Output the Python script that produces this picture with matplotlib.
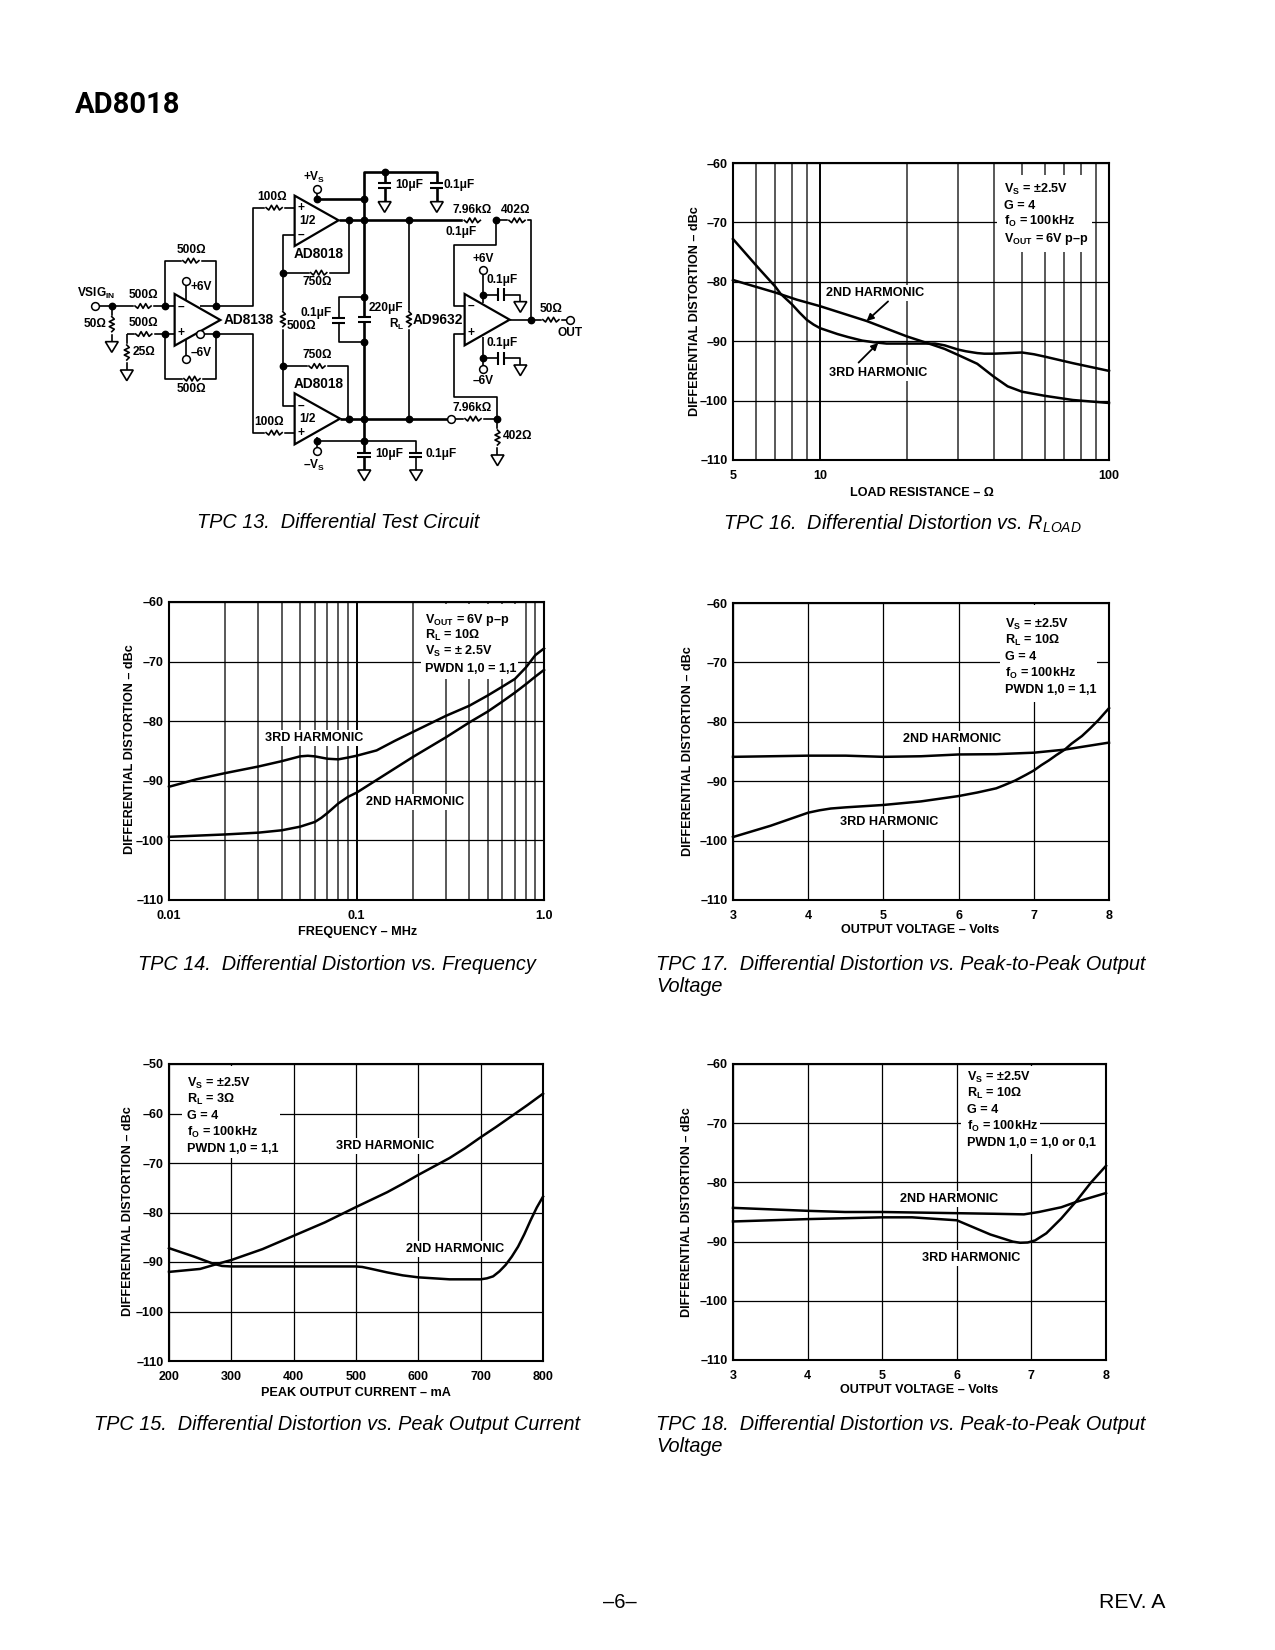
import matplotlib
matplotlib.use("Agg")
import matplotlib.pyplot as plt
from matplotlib.patches import Polygon, Rectangle

plt.rcParams['font.family'] = ['Liberation Sans', 'DejaVu Sans']
plt.rcParams['font.weight'] = 'bold'
plt.rcParams['mathtext.fontset'] = 'custom'
plt.rcParams['mathtext.default'] = 'bf'
plt.rcParams['mathtext.bf'] = 'Liberation Sans:bold'
plt.rcParams['mathtext.it'] = 'Liberation Sans:italic:normal'
plt.rcParams['mathtext.rm'] = 'Liberation Sans:bold'

W, H = 1275, 1650

# --- values ---
rload_2nd_x = [5, 7, 8.3, 10, 14.5, 20, 24.5, 27, 30, 35, 40, 44.6, 50, 60, 75, 100]
rload_2nd_y = [-79.7, -81.8, -83.0, -84.1, -86.6, -89.2, -90.6, -91.3, -92.3, -93.8, -96, -97.6, -98.5, -99.2, -99.9, -100.4]
rload_3rd_x = [5, 6.18, 7, 7.3, 8, 8.5, 9, 9.5, 10, 11.5, 12.5, 14, 15.5, 17, 20, 25, 27, 30, 32, 35, 37, 40, 45, 50, 55, 60, 75, 100]
rload_3rd_y = [-72.8, -77.9, -80.8, -82, -83.8, -85.2, -86.4, -87.2, -87.8, -88.8, -89.3, -89.9, -90.2, -90.4, -90.4, -90.4, -90.7, -91.4, -91.7, -92, -92.1, -92.1, -92, -91.9, -92.2, -92.6, -93.7, -95]

freq_2nd_x = [0.01, 0.02, 0.03, 0.04, 0.05, 0.06, 0.065, 0.07, 0.08, 0.09, 0.1, 0.2, 0.3, 0.4, 0.5, 0.6, 0.7, 0.8, 0.9, 1.0]
freq_2nd_y = [-99.4, -99, -98.7, -98.3, -97.7, -96.9, -96.2, -95.4, -93.8, -92.7, -92, -86, -82.7, -80.2, -78.4, -76.7, -75.2, -73.8, -72.5, -71.4]
freq_3rd_x = [0.01, 0.014, 0.02, 0.03, 0.04, 0.05, 0.055, 0.06, 0.07, 0.08, 0.09, 0.1, 0.128, 0.16, 0.2, 0.3, 0.4, 0.5, 0.6, 0.7, 0.8, 0.9, 1.0]
freq_3rd_y = [-91, -89.75, -88.7, -87.6, -86.7, -85.9, -85.8, -85.9, -86.3, -86.4, -86.1, -85.8, -84.9, -83.3, -81.8, -79.1, -77.4, -75.7, -74.2, -72.9, -71, -68.9, -67.8]

volt17_2nd_x = [3, 4, 4.5, 5, 5.5, 6, 6.5, 7, 7.4, 8]
volt17_2nd_y = [-85.9, -85.7, -85.7, -85.9, -85.8, -85.5, -85.45, -85.2, -84.7, -83.5]
volt17_3rd_x = [3, 3.5, 4, 4.15, 4.3, 4.5, 5, 5.5, 6, 6.25, 6.5, 6.6, 6.75, 6.9, 7, 7.1, 7.2, 7.3, 7.41, 7.5, 7.64, 7.75, 7.86, 8]
volt17_3rd_y = [-99.4, -97.5, -95.3, -94.9, -94.6, -94.4, -94, -93.4, -92.5, -91.9, -91.2, -90.7, -89.9, -88.9, -88.2, -87.3, -86.5, -85.6, -84.7, -83.7, -82.4, -81.1, -79.7, -77.7]

curr_3rd_x = [200, 250, 280, 300, 350, 400, 450, 500, 550, 575, 600, 625, 650, 675, 700, 725, 750, 775, 800]
curr_3rd_y = [-92, -91.4, -90.3, -89.6, -87.4, -84.7, -82, -78.9, -75.9, -74.2, -72.4, -70.7, -69, -67, -64.8, -62.7, -60.5, -58.3, -56]
curr_2nd_x = [200, 240, 270, 285, 300, 400, 500, 510, 525, 550, 575, 600, 625, 650, 700, 710, 720, 730, 740, 750, 760, 770, 780, 790, 800]
curr_2nd_y = [-87.2, -88.9, -90.3, -90.8, -90.9, -90.9, -90.9, -91, -91.4, -92.1, -92.7, -93.1, -93.3, -93.5, -93.5, -93.3, -92.9, -91.9, -90.6, -88.9, -86.9, -84.4, -81.6, -79, -76.8]

volt18_2nd_x = [3, 4, 4.5, 5, 6, 6.5, 6.9, 7.1, 7.4, 7.6, 8]
volt18_2nd_y = [-84.3, -84.8, -85, -85, -85.2, -85.3, -85.4, -85, -84.2, -83.3, -81.8]
volt18_3rd_x = [3, 4, 5, 5.4, 6, 6.15, 6.3, 6.45, 6.6, 6.75, 6.85, 6.95, 7.05, 7.2, 7.4, 7.6, 7.8, 8]
volt18_3rd_y = [-86.6, -86.2, -85.9, -85.9, -86.4, -87.2, -88, -88.8, -89.4, -90, -90.2, -90.15, -89.8, -88.6, -86.1, -83.2, -80, -77.2]

rload_minor = [6, 7, 8, 9, 20, 30, 40, 50, 60, 70, 80, 90]
freq_minor = [0.02, 0.03, 0.04, 0.05, 0.06, 0.07, 0.08, 0.09, 0.2, 0.3, 0.4, 0.5, 0.6, 0.7, 0.8, 0.9]

db_ticks = [-60, -70, -80, -90, -100, -110]
db_ticks_15 = [-50, -60, -70, -80, -90, -100, -110]
volt_ticks = [3, 4, 5, 6, 7, 8]
curr_ticks = [200, 300, 400, 500, 600, 700, 800]

notes_16 = ["V$_{S}$ = ±2.5V", "G = 4", "f$_{O}$ = 100kHz", "V$_{OUT}$ = 6V p–p"]
notes_14 = ["V$_{OUT}$ = 6V p–p", "R$_{L}$ = 10Ω", "V$_{S}$ = ± 2.5V", "PWDN 1,0 = 1,1"]
notes_17 = ["V$_{S}$ = ±2.5V", "R$_{L}$ = 10Ω", "G = 4", "f$_{O}$ = 100kHz", "PWDN 1,0 = 1,1"]
notes_15 = ["V$_{S}$ = ±2.5V", "R$_{L}$ = 3Ω", "G = 4", "f$_{O}$ = 100kHz", "PWDN 1,0 = 1,1"]
notes_18 = ["V$_{S}$ = ±2.5V", "R$_{L}$ = 10Ω", "G = 4", "f$_{O}$ = 100kHz", "PWDN 1,0 = 1,0 or 0,1"]

fig = plt.figure(figsize=(W / 100, H / 100), dpi=100, facecolor='white')

page = fig.add_axes([0, 0, 1, 1], zorder=10)
page.set_xlim(0, W)
page.set_ylim(H, 0)
page.axis('off')
page.patch.set_alpha(0)


def make_axes(left, top, right, bottom, xscale, xlim, ylim, xticks, xlabels, yticks, minor=None):
    ax = fig.add_axes([left / W, 1 - bottom / H, (right - left) / W, (bottom - top) / H])
    ax.set_xscale(xscale)
    ax.set_xlim(*xlim)
    ax.set_ylim(*ylim)
    ax.set_xticks(xticks)
    ax.set_xticklabels(xlabels)
    ax.set_yticks(yticks)
    ax.set_yticklabels([str(v).replace('-', '–') for v in yticks])
    if minor:
        ax.set_xticks(minor, minor=True)
        ax.set_xticklabels([''] * len(minor), minor=True)
    else:
        ax.minorticks_off()
    ax.tick_params(which='both', length=0, labelsize=9)
    ax.tick_params(axis='x', pad=7)
    ax.tick_params(axis='y', pad=4)
    ax.grid(True, which='major', color='black', lw=0.9)
    if minor:
        ax.grid(True, which='major', axis='x', color='black', lw=1.4)
        ax.grid(True, which='minor', axis='x', color='#444444', lw=1.25)
    ax.set_axisbelow(True)
    for s in ax.spines.values():
        s.set_linewidth(1.5)
        s.set_zorder(5)
    return ax


def curve(ax, x, y):
    ax.plot(x, y, color='black', lw=1.8, zorder=4, clip_on=False, solid_joinstyle='round')


def note(ax, x, y, lines, boxes):
    # boxes are the white gaps cut in the grid: left, top, right, bottom in page pixels
    for l, t, r, b in boxes:
        ax.add_patch(Rectangle((l, t), r - l, b - t, transform=page.transData, fc='white', ec='none', zorder=2.8))
    for i, s in enumerate(lines):
        ax.text(x, y + 4.5 + i * 16.4, s, transform=page.transData, ha='left', va='baseline',
                fontsize=9.05, zorder=3, clip_on=False)


def label(ax, x, y, s):
    ax.text(x, y, s, transform=page.transData, ha='center', va='center', fontsize=9.1,
            zorder=3, bbox=dict(fc='white', ec='none', pad=1.2))


def axis_titles(xt, xx, xy, yt, yx, yy):
    page.text(xx, xy, xt, ha='center', va='center', fontsize=9.05)
    page.text(yx, yy, yt, ha='center', va='center', fontsize=9.05, rotation=90)


def caption(x, y, s):
    page.text(x, y, s, ha='left', va='center', fontsize=14.3, style='italic', weight='normal',
              family=['Liberation Sans', 'DejaVu Sans'])


ylab = "DIFFERENTIAL DISTORTION – dBc"

# --- TPC 16 ---
ax = make_axes(733, 163, 1109, 460, 'log', (5, 100), (-110, -60), [5, 10, 100], ['5', '10', '100'], db_ticks, rload_minor)
curve(ax, rload_2nd_x, rload_2nd_y)
curve(ax, rload_3rd_x, rload_3rd_y)
note(ax, 1004, 188, notes_16, [(997, 175, 1092, 252)])
label(ax, 875, 293, "2ND HARMONIC")
label(ax, 878, 373, "3RD HARMONIC")
ax.annotate('', xy=(14.5, -86.6), xytext=(17.2, -83.3), zorder=4,
            arrowprops=dict(arrowstyle='-|>', color='black', lw=1.3, shrinkA=0, shrinkB=0))
ax.annotate('', xy=(15.9, -90.3), xytext=(13.6, -93.6), zorder=4,
            arrowprops=dict(arrowstyle='-|>', color='black', lw=1.3, shrinkA=0, shrinkB=0))
axis_titles("LOAD RESISTANCE – Ω", 922, 493, ylab, 695, 311)

# --- TPC 14 ---
ax = make_axes(169, 602, 544, 900, 'log', (0.01, 1.0), (-110, -60), [0.01, 0.1, 1.0], ['0.01', '0.1', '1.0'], db_ticks, freq_minor)
curve(ax, freq_2nd_x, freq_2nd_y)
curve(ax, freq_3rd_x, freq_3rd_y)
note(ax, 425, 618, notes_14, [(421, 604, 518, 679)])
label(ax, 314, 738, "3RD HARMONIC")
label(ax, 415, 802, "2ND HARMONIC")
axis_titles("FREQUENCY – MHz", 358, 932, ylab, 130, 749)

# --- TPC 17 ---
ax = make_axes(733, 603, 1109, 900, 'linear', (3, 8), (-110, -60), volt_ticks, [str(v) for v in volt_ticks], db_ticks)
curve(ax, volt17_2nd_x, volt17_2nd_y)
curve(ax, volt17_3rd_x, volt17_3rd_y)
note(ax, 1005, 623, notes_17, [(1000, 605, 1097, 702)])
label(ax, 952, 739, "2ND HARMONIC")
label(ax, 889, 822, "3RD HARMONIC")
axis_titles("OUTPUT VOLTAGE – Volts", 920, 930, ylab, 688, 751)

# --- TPC 15 ---
ax = make_axes(169, 1064, 543, 1361, 'linear', (200, 800), (-110, -50), curr_ticks, [str(v) for v in curr_ticks], db_ticks_15)
curve(ax, curr_2nd_x, curr_2nd_y)
curve(ax, curr_3rd_x, curr_3rd_y)
note(ax, 187, 1082, notes_15, [(182, 1066, 280, 1158)])
label(ax, 385, 1146, "3RD HARMONIC")
label(ax, 455, 1249, "2ND HARMONIC")
axis_titles("PEAK OUTPUT CURRENT – mA", 356, 1393, ylab, 128, 1211)

# --- TPC 18 ---
ax = make_axes(733, 1064, 1106, 1360, 'linear', (3, 8), (-110, -60), volt_ticks, [str(v) for v in volt_ticks], db_ticks)
curve(ax, volt18_2nd_x, volt18_2nd_y)
curve(ax, volt18_3rd_x, volt18_3rd_y)
note(ax, 967, 1076, notes_18, [(961, 1066, 1040, 1136), (961, 1136, 1097, 1154)])
label(ax, 949, 1199, "2ND HARMONIC")
label(ax, 971, 1258, "3RD HARMONIC")
axis_titles("OUTPUT VOLTAGE – Volts", 919, 1390, ylab, 687, 1212)

# --- captions, header, footer ---
caption(197, 523, "TPC 13.  Differential Test Circuit")
caption(723, 524, "TPC 16.  Differential Distortion vs. R$_{\\mathit{LOAD}}$")
caption(138, 964, "TPC 14.  Differential Distortion vs. Frequency")
caption(656, 964, "TPC 17.  Differential Distortion vs. Peak-to-Peak Output")
caption(656, 987, "Voltage")
caption(94, 1424, "TPC 15.  Differential Distortion vs. Peak Output Current")
caption(656, 1424, "TPC 18.  Differential Distortion vs. Peak-to-Peak Output")
caption(656, 1447, "Voltage")
page.text(75, 105, "AD8018", ha='left', va='center', fontsize=21, weight='bold',
          family=['Roboto', 'Liberation Sans'])
page.text(620, 1602, "–6–", ha='center', va='center', fontsize=14.5, weight='normal')
page.text(1165, 1602, "REV. A", ha='right', va='center', fontsize=15.3, weight='normal')

# --- TPC 13 schematic, in its own units over the crop area ---
sch = fig.add_axes([50 / W, 1 - 540 / H, 560 / W, 400 / H], zorder=5)
sch.set_xlim(0, 1568)
sch.set_ylim(1200, 0)
sch.axis('off')

thin_wires = [
    [(135, 498), (349, 498)], [(173, 498), (173, 605)], [(217, 582), (349, 582)], [(215, 582), (215, 690)],
    [(322, 498), (322, 362), (466, 362), (466, 498)], [(420, 498), (568, 498), (568, 203), (685, 203)],
    [(322, 582), (322, 716), (466, 716), (466, 582)], [(428, 582), (568, 582), (568, 878), (685, 878)],
    [(382, 431), (382, 490)], [(382, 590), (382, 648)],
    [(837, 241), (837, 398), (652, 398)], [(685, 285), (652, 285), (652, 798), (685, 798)],
    [(652, 678), (835, 678), (835, 836)], [(1005, 241), (1005, 836)],
    [(1250, 241), (1348, 241), (1348, 539)], [(1250, 241), (1250, 314), (1130, 314), (1130, 497), (1161, 497)],
    [(1253, 836), (1253, 770), (1132, 770), (1132, 582), (1161, 582)], [(1253, 836), (1253, 945)],
    [(1130, 836), (1253, 836)], [(1287, 539), (1448, 539)],
    [(748, 156), (748, 190)], [(748, 890), (748, 924)],
    [(748, 903), (1025, 903), (1025, 938)], [(1025, 950), (1025, 990)],
    [(880, 470), (808, 470), (808, 535)], [(808, 548), (808, 605), (880, 605)],
    [(1212, 400), (1212, 490)], [(1212, 464), (1255, 464)], [(1270, 464), (1317, 464), (1317, 485)],
    [(1212, 590), (1212, 678)], [(1212, 655), (1255, 655)], [(1270, 655), (1317, 655), (1317, 675)],
]
thick_wires = [
    [(880, 530), (880, 97), (1083, 97), (1083, 130)], [(1083, 145), (1083, 185)],
    [(937, 97), (937, 130)], [(937, 145), (937, 185)], [(748, 177), (880, 177)],
    [(808, 241), (1160, 241)], [(812, 836), (1115, 836)],
    [(880, 545), (880, 938)], [(880, 950), (880, 990)],
]
plates = [
    [(1063, 130), (1100, 130)], [(1063, 145), (1100, 145)], [(918, 130), (955, 130)], [(918, 145), (955, 145)],
    [(862, 530), (898, 530)], [(862, 545), (898, 545)], [(790, 535), (826, 535)], [(790, 548), (826, 548)],
    [(860, 938), (898, 938)], [(860, 950), (898, 950)], [(1005, 938), (1043, 938)], [(1005, 950), (1043, 950)],
    [(1255, 445), (1255, 483)], [(1270, 445), (1270, 483)], [(1255, 636), (1255, 674)], [(1270, 636), (1270, 674)],
]
triangles = [
    [(349, 462), (349, 617), (477, 540)], [(685, 167), (685, 318), (808, 241)],
    [(685, 760), (685, 913), (812, 836)], [(1161, 462), (1161, 616), (1287, 539)],
]
resistors_h = [(238, 498), (240, 582), (372, 362), (375, 716), (605, 203), (605, 878), (730, 398), (725, 678),
               (1160, 241), (1285, 241), (1162, 836), (1380, 539)]
resistors_v = [(173, 530), (215, 615), (652, 515), (1005, 515), (1253, 870)]
grounds = [(173, 605), (215, 690), (937, 185), (1083, 185), (880, 990), (1025, 990), (1253, 945), (1317, 485), (1317, 675)]
nodes = [(173, 498), (322, 498), (322, 582), (466, 498), (466, 582), (652, 398), (652, 678), (837, 241), (837, 836),
         (880, 177), (880, 241), (880, 470), (880, 605), (880, 836), (880, 903), (937, 97), (1005, 241), (1005, 836),
         (1250, 241), (1253, 836), (1348, 539), (748, 177), (748, 903), (1212, 464), (1212, 655)]
terminals = [(127, 498), (382, 423), (382, 656), (420, 582), (748, 148), (748, 932), (1122, 836), (1456, 539), (1212, 391), (1212, 686)]
sch_labels = [
    ("VSIG$_{IN}$", 130, 460), ("500Ω", 261, 465), ("50Ω", 127, 552), ("500Ω", 261, 550), ("25Ω", 263, 636),
    ("500Ω", 395, 331), ("500Ω", 395, 748), ("+6V", 422, 441), ("–6V", 422, 639),
    ("100Ω", 622, 171), ("100Ω", 614, 846), ("1/2", 722, 243), ("1/2", 722, 838),
    ("750Ω", 747, 426), ("750Ω", 747, 645), ("500Ω", 705, 558), ("0.1μF", 745, 520), ("220μF", 940, 505),
    ("R$_{L}$", 972, 552), ("+V$_{S}$", 740, 112), ("–V$_{S}$", 740, 975),
    ("10μF", 1005, 135), ("0.1μF", 1145, 135), ("10μF", 950, 941), ("0.1μF", 1095, 941),
    ("7.96kΩ", 1182, 210), ("0.1μF", 1152, 276), ("402Ω", 1305, 210), ("7.96kΩ", 1182, 803), ("402Ω", 1308, 888),
    ("+6V", 1213, 358), ("0.1μF", 1267, 421), ("0.1μF", 1267, 610), ("–6V", 1213, 722), ("50Ω", 1402, 507), ("OUT", 1455, 578),
    ("–", 367, 500), ("+", 367, 580), ("+", 702, 203), ("–", 702, 285), ("–", 704, 797), ("+", 704, 878), ("–", 1180, 498), ("+", 1180, 580),
]
part_labels = [("AD8138", 557, 539), ("AD8018", 752, 343), ("AD8018", 752, 733), ("AD9632", 1085, 539)]


def wire(pts, lw):
    sch.plot([p[0] for p in pts], [p[1] for p in pts], color='black', lw=lw, zorder=2, solid_capstyle='butt')


for w in thin_wires:
    wire(w, 1.2)
for w in thick_wires:
    wire(w, 1.9)
for w in plates:
    wire(w, 1.5)
for t in triangles:
    sch.add_patch(Polygon(t, closed=True, fc='white', ec='black', lw=1.6, zorder=3))

for x, y in resistors_h:
    pts = [(x + i * 7.5, y + (0 if i in (0, 6) else (7 if i % 2 else -7))) for i in range(7)]
    sch.plot([x, x + 45], [y, y], color='white', lw=2.5, zorder=2.2)
    sch.plot([p[0] for p in pts], [p[1] for p in pts], color='black', lw=1.2, zorder=2.5)
for x, y in resistors_v:
    pts = [(x + (0 if i in (0, 6) else (7 if i % 2 else -7)), y + i * 7.5) for i in range(7)]
    sch.plot([x, x], [y, y + 45], color='white', lw=2.5, zorder=2.2)
    sch.plot([p[0] for p in pts], [p[1] for p in pts], color='black', lw=1.2, zorder=2.5)
for x, y in grounds:
    sch.add_patch(Polygon([(x - 18, y), (x + 18, y), (x, y + 32)], closed=True, fc='white', ec='black', lw=1.2, zorder=3))
for x, y in nodes:
    sch.plot(x, y, 'o', color='black', ms=4.6, zorder=4)
for x, y in terminals:
    sch.plot(x, y, 'o', mfc='white', mec='black', mew=1.1, ms=5.6, zorder=4)
for s, x, y in sch_labels:
    sch.text(x, y, s, ha='center', va='center', fontsize=8.6, zorder=5)
for s, x, y in part_labels:
    sch.text(x, y, s, ha='center', va='center', fontsize=9.9, zorder=5)

fig.savefig("out.png", dpi=100)
print("saved out.png")
